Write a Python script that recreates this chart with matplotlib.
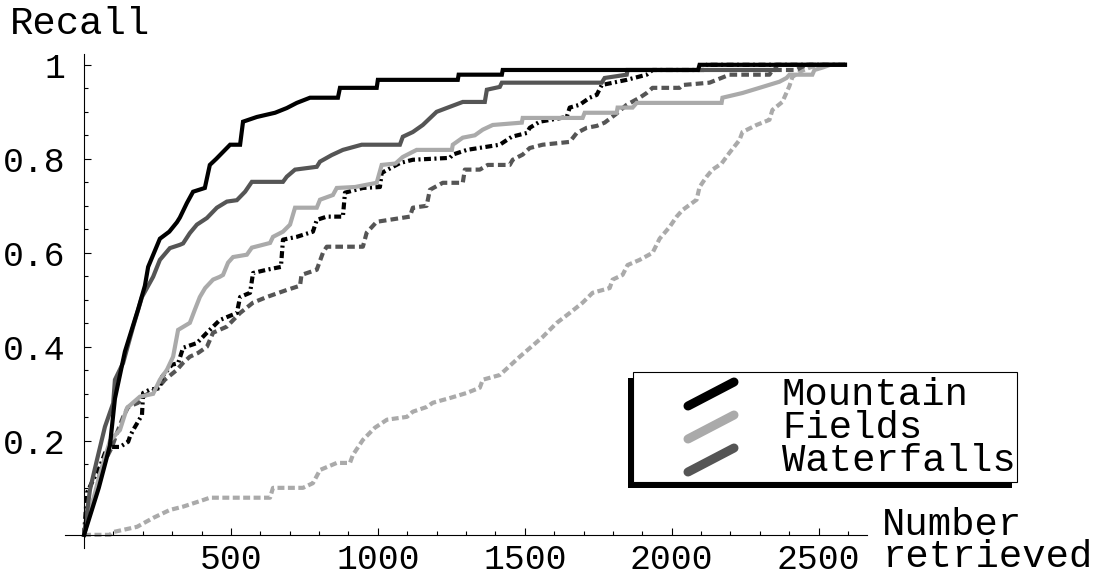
import matplotlib
matplotlib.use('Agg')
import matplotlib.pyplot as plt
from matplotlib.patches import Rectangle
from matplotlib.ticker import MultipleLocator, FixedLocator

plt.rcParams['font.family'] = ['Liberation Mono', 'DejaVu Sans Mono']
plt.rcParams['lines.scale_dashes'] = False

# data (number retrieved, recall)
mountain_x = [0, 50, 88, 105, 139, 184, 207, 218, 258, 290, 316, 326, 350, 371, 411, 428, 450, 497, 531, 541, 588, 650, 690, 724, 769, 864, 871, 996, 1000, 1272, 1275, 1422, 1425, 2090, 2095, 2590]
mountain_y = [0, 0.1, 0.19, 0.29, 0.39, 0.48, 0.53, 0.57, 0.63, 0.645, 0.665, 0.675, 0.706, 0.73, 0.738, 0.787, 0.80, 0.83, 0.83, 0.879, 0.889, 0.898, 0.908, 0.919, 0.93, 0.93, 0.951, 0.951, 0.968, 0.968, 0.979, 0.979, 0.989, 0.989, 1.0, 1.0]

fields_x = [0, 54, 88, 122, 146, 190, 235, 258, 282, 303, 320, 360, 377, 394, 412, 439, 462, 473, 490, 507, 554, 571, 633, 643, 677, 701, 718, 792, 803, 847, 860, 922, 996, 1013, 1060, 1085, 1132, 1252, 1255, 1289, 1330, 1357, 1391, 1490, 1493, 1697, 1704, 1813, 1816, 1867, 1881, 2170, 2173, 2241, 2299, 2367, 2391, 2401, 2479, 2486, 2513, 2540, 2590]
fields_y = [0, 0.13, 0.2, 0.223, 0.27, 0.294, 0.30, 0.33, 0.351, 0.379, 0.436, 0.451, 0.479, 0.506, 0.525, 0.543, 0.549, 0.553, 0.579, 0.591, 0.596, 0.611, 0.621, 0.634, 0.645, 0.66, 0.696, 0.696, 0.713, 0.723, 0.738, 0.74, 0.749, 0.787, 0.79, 0.804, 0.819, 0.819, 0.83, 0.845, 0.85, 0.862, 0.872, 0.877, 0.887, 0.887, 0.898, 0.898, 0.909, 0.909, 0.919, 0.919, 0.93, 0.94, 0.951, 0.964, 0.972, 0.979, 0.979, 0.989, 0.994, 1.0, 1.0]

waterfalls_x = [0, 20, 44, 71, 99, 105, 133, 167, 197, 235, 258, 292, 326, 337, 360, 384, 418, 452, 486, 520, 548, 571, 677, 690, 718, 792, 803, 843, 881, 945, 1075, 1085, 1119, 1153, 1200, 1238, 1289, 1364, 1371, 1415, 1422, 1762, 1772, 1847, 1850, 2350, 2360, 2590]
waterfalls_y = [0, 0.096, 0.16, 0.23, 0.28, 0.33, 0.366, 0.443, 0.506, 0.549, 0.585, 0.61, 0.617, 0.62, 0.642, 0.66, 0.674, 0.696, 0.709, 0.712, 0.73, 0.751, 0.751, 0.762, 0.777, 0.783, 0.794, 0.808, 0.819, 0.83, 0.83, 0.847, 0.857, 0.872, 0.9, 0.909, 0.921, 0.921, 0.947, 0.953, 0.962, 0.962, 0.972, 0.979, 0.989, 0.989, 1.0, 1.0]

black_dash_x = [0, 10, 31, 54, 71, 88, 122, 150, 156, 167, 197, 201, 224, 258, 265, 299, 320, 337, 384, 418, 462, 520, 531, 565, 575, 622, 670, 677, 724, 779, 792, 826, 881, 888, 949, 1007, 1013, 1075, 1119, 1245, 1255, 1303, 1415, 1456, 1507, 1517, 1551, 1643, 1653, 1687, 1721, 1745, 1762, 1847, 1915, 1935, 2110, 2119, 2590]
black_dash_y = [0, 0.09, 0.117, 0.145, 0.174, 0.187, 0.187, 0.198, 0.209, 0.223, 0.255, 0.302, 0.309, 0.312, 0.336, 0.362, 0.365, 0.398, 0.408, 0.43, 0.457, 0.472, 0.506, 0.515, 0.557, 0.564, 0.57, 0.628, 0.634, 0.645, 0.67, 0.677, 0.677, 0.728, 0.738, 0.74, 0.77, 0.791, 0.798, 0.802, 0.809, 0.819, 0.83, 0.847, 0.855, 0.866, 0.879, 0.889, 0.909, 0.915, 0.93, 0.936, 0.957, 0.968, 0.979, 0.989, 0.989, 1.0, 1.0]

dark_dash_x = [0, 20, 44, 54, 78, 95, 112, 133, 150, 184, 201, 252, 275, 316, 337, 360, 388, 418, 439, 486, 531, 575, 622, 690, 735, 740, 792, 813, 826, 949, 962, 996, 1109, 1119, 1166, 1177, 1221, 1289, 1296, 1347, 1374, 1449, 1459, 1493, 1517, 1561, 1653, 1677, 1711, 1745, 1772, 1810, 1847, 1891, 1915, 1935, 2027, 2037, 2129, 2153, 2197, 2333, 2343, 2425, 2445, 2470, 2590]
dark_dash_y = [0, 0.053, 0.096, 0.132, 0.166, 0.187, 0.217, 0.251, 0.272, 0.281, 0.294, 0.313, 0.33, 0.351, 0.366, 0.379, 0.387, 0.4, 0.43, 0.443, 0.472, 0.494, 0.506, 0.521, 0.53, 0.553, 0.564, 0.6, 0.613, 0.613, 0.643, 0.666, 0.677, 0.696, 0.7, 0.734, 0.749, 0.749, 0.777, 0.777, 0.787, 0.787, 0.798, 0.809, 0.823, 0.83, 0.836, 0.855, 0.866, 0.87, 0.877, 0.895, 0.915, 0.93, 0.94, 0.951, 0.951, 0.957, 0.962, 0.968, 0.979, 0.979, 0.989, 0.989, 0.996, 1.0, 1.0]

light_dash_x = [0, 88, 99, 180, 235, 292, 337, 405, 428, 633, 643, 745, 779, 803, 860, 905, 915, 949, 990, 1031, 1099, 1119, 1166, 1187, 1245, 1303, 1347, 1357, 1415, 1483, 1561, 1609, 1653, 1697, 1731, 1789, 1799, 1833, 1850, 1891, 1935, 1959, 1993, 2017, 2037, 2085, 2095, 2119, 2139, 2170, 2197, 2231, 2241, 2289, 2333, 2343, 2377, 2401, 2411, 2435, 2469, 2500, 2590]
light_dash_y = [0, 0, 0.006, 0.017, 0.036, 0.053, 0.06, 0.074, 0.079, 0.079, 0.1, 0.1, 0.11, 0.138, 0.153, 0.153, 0.17, 0.202, 0.228, 0.245, 0.251, 0.262, 0.272, 0.281, 0.291, 0.302, 0.313, 0.33, 0.34, 0.379, 0.421, 0.451, 0.472, 0.494, 0.515, 0.525, 0.543, 0.553, 0.574, 0.585, 0.6, 0.63, 0.655, 0.677, 0.691, 0.713, 0.74, 0.762, 0.777, 0.79, 0.813, 0.84, 0.857, 0.872, 0.883, 0.904, 0.921, 0.955, 0.974, 0.985, 0.994, 1.0, 1.0]

legend_labels = ['Mountain', 'Fields', 'Waterfalls']
x_ticks = [500, 1000, 1500, 2000, 2500]
y_ticks = [0.2, 0.4, 0.6, 0.8, 1.0]
y_tick_labels = ['0.2', '0.4', '0.6', '0.8', '1']

BLACK = '#000000'
LIGHT = '#aaaaaa'
DARK = '#555555'

fig = plt.figure(figsize=(11.02, 5.75), dpi=100)
W, H = 1102, 575
# axes box in pixels: x from 65 to 867, y from 54 to 548
ax = fig.add_axes([65 / W, (H - 548) / H, (867 - 65) / W, (548 - 54) / H])
ax.set_xlim(-65, 2665)
ax.set_ylim(-0.028, 1.023)

lw = 3.0
ax.plot(light_dash_x, light_dash_y, color=LIGHT, lw=lw, dashes=(5, 2.5))
ax.plot(dark_dash_x, dark_dash_y, color=DARK, lw=lw, dashes=(5.5, 3))
ax.plot(black_dash_x, black_dash_y, color=BLACK, lw=lw, dashes=(5, 2.5, 1.5, 2.5))
ax.plot(fields_x, fields_y, color=LIGHT, lw=lw, solid_joinstyle='miter')
ax.plot(waterfalls_x, waterfalls_y, color=DARK, lw=lw, solid_joinstyle='miter')
ax.plot(mountain_x, mountain_y, color=BLACK, lw=lw, solid_joinstyle='miter')

for s in ['top', 'right']:
    ax.spines[s].set_visible(False)
ax.spines['left'].set_position(('data', 0))
ax.spines['bottom'].set_position(('data', 0))
for s in ['left', 'bottom']:
    ax.spines[s].set_linewidth(0.8)

ax.xaxis.set_major_locator(FixedLocator(x_ticks))
ax.xaxis.set_minor_locator(MultipleLocator(100))
ax.set_yticks(y_ticks)
ax.set_yticklabels(y_tick_labels)
ax.yaxis.set_minor_locator(MultipleLocator(0.05))
ax.tick_params(which='both', direction='in', width=0.8)
ax.tick_params(which='major', length=5, labelsize=25)
ax.tick_params(which='minor', length=3)
ax.tick_params(axis='y', which='major', pad=13.5)
ax.tick_params(axis='x', which='major', pad=6)

# overlay in pixel coordinates for labels and legend
ov = fig.add_axes([0, 0, 1, 1], zorder=5)
ov.set_xlim(0, W)
ov.set_ylim(H, 0)
ov.axis('off')
ov.patch.set_alpha(0)

ov.text(10, 24, 'Recall', fontsize=28, ha='left', va='center')
ov.text(882, 541, 'Number\nretrieved', fontsize=28, ha='left', va='center', linespacing=0.88)

ov.add_patch(Rectangle((628, 378), 384, 110, facecolor='black', edgecolor='none'))
ov.add_patch(Rectangle((633, 372), 384, 110, facecolor='white', edgecolor='black', lw=0.8))
for i, (lab, col) in enumerate(zip(legend_labels, [BLACK, LIGHT, DARK])):
    yc = 394 + i * 33
    ov.plot([688, 734], [yc + 12, yc - 12], color=col, lw=6.5, solid_capstyle='round')
    ov.text(782, yc + 1, lab, fontsize=28, ha='left', va='center')

fig.savefig('out.png', dpi=100)
